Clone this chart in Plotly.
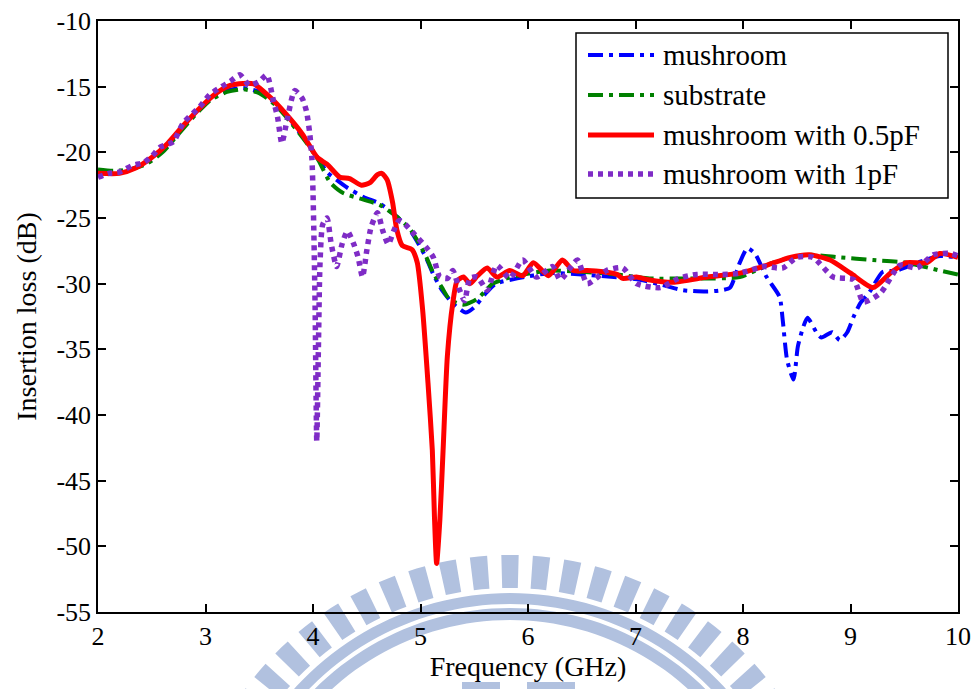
import math
import plotly.graph_objects as go

# ---- measured insertion loss (dB) versus frequency (GHz) ----
f_mushroom = [2.0, 2.15, 2.3, 2.45, 2.6, 2.75, 2.9, 3.05, 3.2, 3.35,
              3.5, 3.65, 3.8, 3.95, 4.05, 4.13, 4.22, 4.32, 4.47, 4.62,
              4.78, 4.9, 4.97, 5.05, 5.12, 5.2, 5.3, 5.42, 5.5, 5.6,
              5.7, 5.9, 6.2, 6.5, 6.8, 7.04, 7.25, 7.44, 7.67, 7.8,
              7.88, 7.97, 8.04, 8.11, 8.22, 8.34, 8.37, 8.41, 8.47, 8.51,
              8.56, 8.6, 8.69, 8.73, 8.83, 8.9, 8.97, 9.03, 9.09, 9.18,
              9.3, 9.43, 9.62, 9.83, 10.0]
il_mushroom = [-21.4, -21.5, -21.3, -20.8, -19.9, -18.5, -17.1, -15.9, -15.3, -15.1,
               -15.4, -16.3, -17.7, -19.3, -20.5, -21.5, -22.1, -22.7, -23.4, -23.9,
               -24.9, -25.9, -26.8, -28.0, -29.3, -30.5, -31.5, -32.2, -31.8, -30.8,
               -30.0, -29.6, -29.2, -29.3, -29.5, -29.7, -30.1, -30.5, -30.6, -30.5,
               -30.3, -28.4, -27.3, -27.7, -29.5, -31.0, -32.8, -35.8, -37.3, -34.8,
               -33.3, -32.6, -33.8, -34.1, -33.7, -34.3, -33.7, -32.5, -31.5, -30.6,
               -29.1, -29.0, -28.4, -27.9, -28.0]

f_substrate = [2.0, 2.15, 2.3, 2.45, 2.6, 2.75, 2.9, 3.05, 3.2, 3.35,
               3.5, 3.65, 3.8, 3.95, 4.05, 4.16, 4.28, 4.47, 4.62, 4.78,
               4.9, 4.97, 5.05, 5.12, 5.2, 5.27, 5.4, 5.52, 5.6, 5.67,
               5.8, 5.9, 6.2, 6.5, 6.83, 7.13, 7.5, 7.97, 8.28, 8.59,
               8.9, 9.21, 9.52, 9.83, 10.0]
il_substrate = [-21.3, -21.4, -21.3, -20.9, -20.0, -18.6, -17.2, -16.0, -15.4, -15.2,
                -15.5, -16.4, -17.8, -19.4, -20.6, -22.3, -23.1, -23.6, -24.0, -24.9,
                -25.8, -26.7, -27.9, -29.2, -30.3, -31.2, -31.6, -31.2, -30.6, -30.0,
                -29.6, -29.4, -29.0, -29.1, -29.3, -29.6, -29.6, -29.5, -28.4, -27.8,
                -28.0, -28.2, -28.4, -29.0, -29.3]

f_05pf = [2.0, 2.2, 2.35, 2.5, 2.65, 2.8, 2.95, 3.1, 3.23, 3.35,
          3.45, 3.6, 3.75, 3.9, 4.04, 4.13, 4.25, 4.34, 4.45, 4.53,
          4.6, 4.64, 4.69, 4.74, 4.78, 4.83, 4.92, 4.97, 5.02, 5.07,
          5.11, 5.13, 5.15, 5.18, 5.21, 5.25, 5.3, 5.34, 5.4, 5.46,
          5.53, 5.62, 5.71, 5.83, 5.95, 6.05, 6.19, 6.32, 6.42, 6.55,
          6.7, 6.83, 6.88, 7.01, 7.12, 7.35, 7.67, 7.97, 8.22, 8.44,
          8.62, 8.81, 9.0, 9.21, 9.37, 9.52, 9.71, 9.83, 10.0]
il_05pf = [-21.6, -21.6, -21.2, -20.4, -19.3, -17.9, -16.6, -15.5, -14.9, -14.75,
           -14.8, -15.8, -17.1, -18.6, -20.4, -20.9, -21.9, -22.0, -22.5, -22.3,
           -21.7, -21.6, -22.1, -23.8, -25.9, -27.1, -27.4, -28.4, -32.0, -37.6,
           -42.7, -47.8, -51.3, -48.0, -42.7, -35.5, -31.5, -29.8, -29.5, -30.0,
           -29.4, -28.8, -29.5, -29.0, -29.4, -28.4, -29.4, -28.2, -29.0, -29.0,
           -29.1, -29.3, -29.6, -29.5, -29.7, -29.9, -29.5, -29.2, -28.6, -28.0,
           -27.8, -28.2, -29.2, -30.3, -29.2, -28.4, -28.4, -27.7, -28.0]

f_1pf = [2.0, 2.1, 2.2, 2.32, 2.42, 2.5, 2.58, 2.7, 2.79, 2.95,
         3.04, 3.15, 3.23, 3.32, 3.41, 3.5, 3.57, 3.63, 3.67, 3.71,
         3.76, 3.83, 3.9, 3.94, 3.97, 3.99, 4.0, 4.01, 4.02, 4.035,
         4.05, 4.065, 4.09, 4.13, 4.17, 4.22, 4.27, 4.32, 4.38, 4.42,
         4.46, 4.5, 4.54, 4.6, 4.65, 4.7, 4.75, 4.8, 4.86, 4.95,
         5.05, 5.12, 5.18, 5.25, 5.3, 5.36, 5.41, 5.46, 5.53, 5.62,
         5.71, 5.83, 5.95, 6.08, 6.23, 6.3, 6.46, 6.55, 6.73, 6.88,
         7.01, 7.23, 7.4, 7.57, 7.79, 7.97, 8.19, 8.37, 8.5, 8.65,
         8.84, 9.03, 9.12, 9.28, 9.46, 9.62, 9.77, 9.93, 10.0]
il_1pf = [-21.9, -21.6, -21.5, -21.0, -20.8, -20.3, -19.6, -19.2, -17.8, -16.5,
          -15.6, -15.0, -14.6, -14.1, -14.9, -14.6, -14.1, -16.0, -17.3, -19.3,
          -17.5, -15.3, -15.9, -16.9, -18.6, -20.5, -23.0, -27.0, -32.0, -42.0,
          -35.0, -28.5, -25.5, -25.0, -27.0, -28.7, -27.0, -26.0, -27.0, -28.0,
          -29.5, -27.5, -25.7, -24.6, -26.0, -27.0, -26.0, -25.2, -25.5, -26.3,
          -27.2, -28.0, -29.5, -29.6, -29.0, -30.4, -31.3, -29.6, -29.5, -30.5,
          -28.6, -29.6, -28.2, -29.5, -28.7, -29.7, -28.2, -30.0, -29.0, -28.8,
          -30.0, -30.3, -29.6, -29.3, -29.3, -29.2, -28.7, -28.8, -28.0, -28.0,
          -29.5, -29.7, -31.4, -30.7, -28.6, -28.8, -27.8, -27.7, -27.9]

series_names = ["mushroom", "substrate", "mushroom with 0.5pF", "mushroom with 1pF"]
x_ticks = [2, 3, 4, 5, 6, 7, 8, 9, 10]
y_ticks = [-55, -50, -45, -40, -35, -30, -25, -20, -15, -10]

# ---- styling ----
W, H = 975, 689
L, R, T, B = 98, 17, 21, 77
SERIF = "Liberation Serif, Times New Roman, serif"
styles = [
    dict(color="#0000FF", width=4, dash="15px,6px,4px,6px"),
    dict(color="#008000", width=4, dash="15px,6px,4px,6px"),
    dict(color="#FF0000", width=5, dash="solid"),
    dict(color="#7F2CC6", width=5.5, dash="5px,5px"),
]
series = [(f_mushroom, il_mushroom), (f_substrate, il_substrate),
          (f_05pf, il_05pf), (f_1pf, il_1pf)]

fig = go.Figure()
for (fx, fy), name, st in zip(series, series_names, styles):
    fig.add_trace(go.Scatter(
        x=fx, y=fy, name=name, mode="lines",
        line=dict(color=st["color"], width=st["width"], dash=st["dash"],
                  shape="spline", smoothing=0.6),
        showlegend=False,
    ))

# pixel -> paper coordinate helpers for decorations
pw, ph = W - L - R, H - T - B


def px(xpix):
    return (xpix - L) / pw


def py(ypix):
    return (H - B - ypix) / ph


shapes = []

# faint emblem printed behind the plot: toothed ring plus two arcs
EMB = "#B1C1DF"
cx, cy = 510, 884


def ring_sector(r1, r2, a1, a2, n=12):
    pts = []
    for i in range(n + 1):
        a = a1 + (a2 - a1) * i / n
        pts.append((cx + r2 * math.cos(a), cy - r2 * math.sin(a)))
    for i in range(n + 1):
        a = a2 + (a1 - a2) * i / n
        pts.append((cx + r1 * math.cos(a), cy - r1 * math.sin(a)))
    return "M " + " L ".join(f"{px(x):.5f},{py(y):.5f}" for x, y in pts) + " Z"


pitch = math.radians(5.5)
tooth = pitch * 0.55
for k in range(-17, 18):
    a0 = math.pi / 2 + k * pitch
    shapes.append(dict(type="path", xref="paper", yref="paper", layer="below",
                       path=ring_sector(296, 329, a0 - tooth / 2, a0 + tooth / 2, 2),
                       fillcolor=EMB, line=dict(width=0)))
for r1, r2 in [(280, 291), (264, 276)]:
    shapes.append(dict(type="path", xref="paper", yref="paper", layer="below",
                       path=ring_sector(r1, r2, math.radians(5), math.radians(175), 90),
                       fillcolor=EMB, line=dict(width=0)))
for x0, x1 in [(462, 500), (527, 575)]:
    shapes.append(dict(type="rect", xref="paper", yref="paper", layer="below",
                       x0=px(x0), x1=px(x1), y0=py(690), y1=py(682),
                       fillcolor=EMB, line=dict(width=0)))

# legend box with line samples
annotations = []
shapes.append(dict(type="rect", xref="paper", yref="paper",
                   x0=px(576), x1=px(948), y0=py(198), y1=py(33),
                   fillcolor="white", line=dict(color="black", width=1.5)))
for i, (name, st) in enumerate(zip(series_names, styles)):
    yy = [55, 95, 135, 174][i]
    shapes.append(dict(type="line", xref="paper", yref="paper",
                       x0=px(588), x1=px(654), y0=py(yy), y1=py(yy),
                       line=dict(color=st["color"], width=st["width"], dash=st["dash"])))
    annotations.append(dict(xref="paper", yref="paper", x=px(661), y=py(yy),
                            xanchor="left", yanchor="middle", showarrow=False,
                            text=name, font=dict(family=SERIF, size=29, color="black")))

axis_common = dict(showline=True, linecolor="black", linewidth=1.5, mirror="ticks",
                   ticks="inside", ticklen=8, tickwidth=1.5, tickcolor="black",
                   showgrid=False, zeroline=False, automargin=False,
                   tickfont=dict(family=SERIF, size=26, color="black"))

fig.update_layout(
    width=W, height=H,
    margin=dict(l=L, r=R, t=T, b=B, pad=0, autoexpand=False),
    paper_bgcolor="white", plot_bgcolor="rgba(0,0,0,0)",
    shapes=shapes, annotations=annotations,
    xaxis=dict(range=[2, 10], tickvals=x_ticks, ticktext=[str(v) for v in x_ticks],
               title=dict(text="Frequency (GHz)", font=dict(family=SERIF, size=28, color="black"),
                          standoff=4),
               **axis_common),
    yaxis=dict(range=[-55, -10], tickvals=y_ticks, ticktext=[str(v) for v in y_ticks],
               title=dict(text="Insertion loss (dB)", font=dict(family=SERIF, size=28, color="black"),
                          standoff=12),
               **axis_common),
)

fig.write_html("out.html")
